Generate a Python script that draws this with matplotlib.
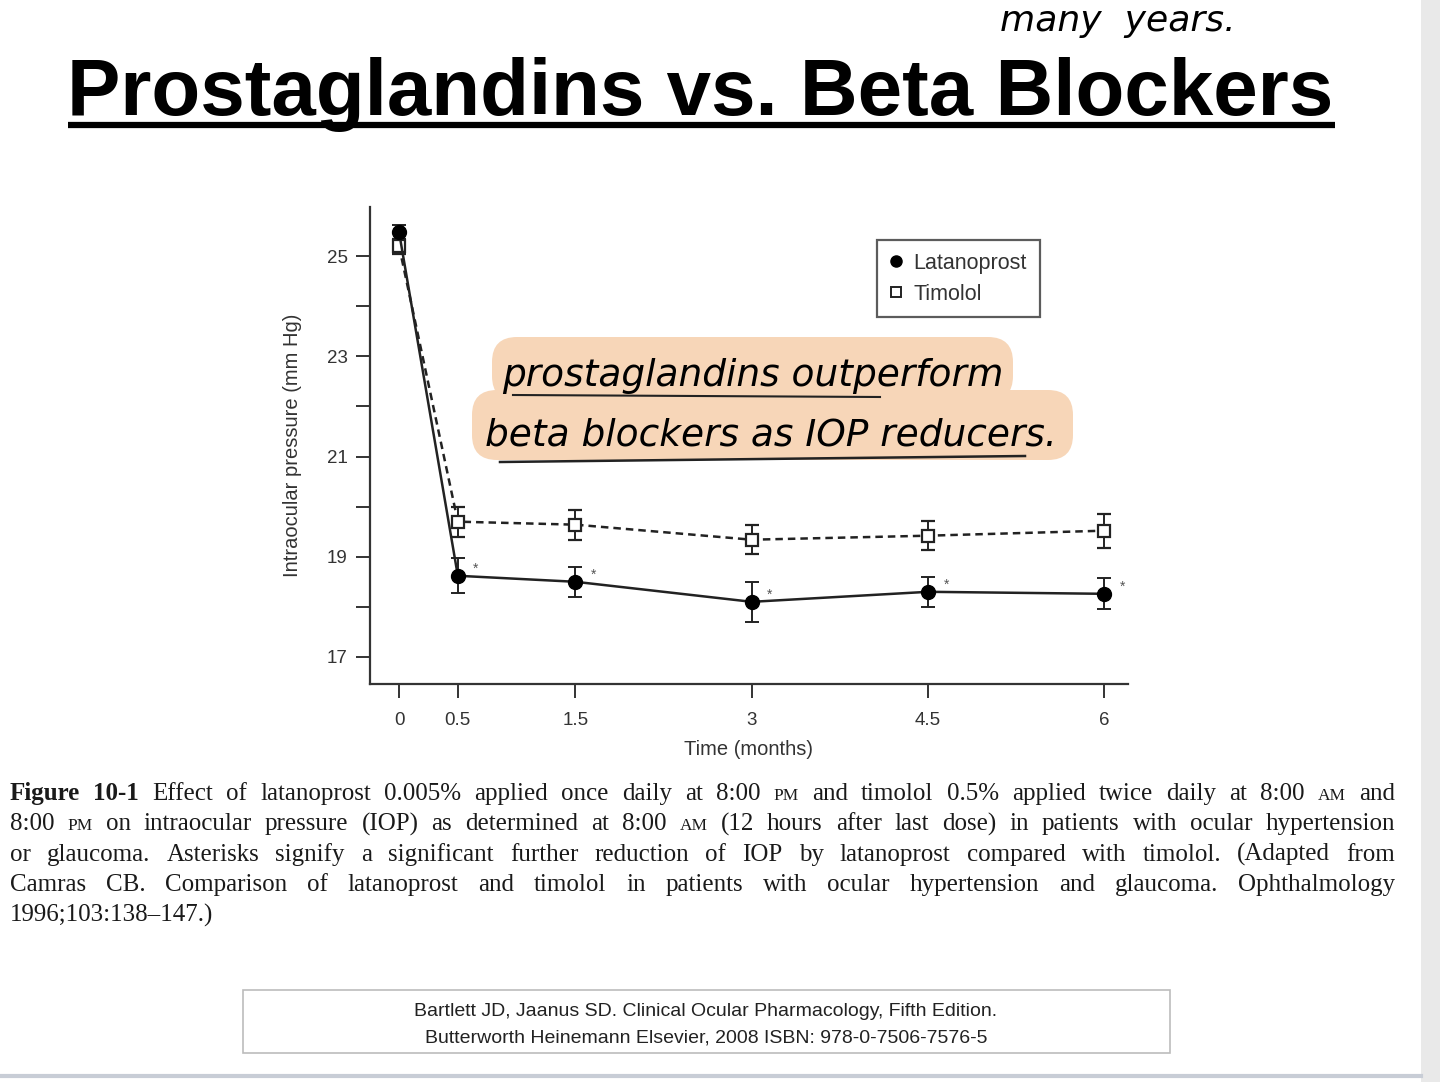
import matplotlib
matplotlib.use("Agg")
import matplotlib.pyplot as plt
from matplotlib.lines import Line2D
from matplotlib.patches import FancyBboxPatch, Rectangle

# IOP readings (mm Hg)
months = [0, 0.5, 1.5, 3, 4.5, 6]
latanoprost = [25.48, 18.62, 18.50, 18.10, 18.30, 18.26]
latanoprost_err = [0.15, 0.35, 0.30, 0.40, 0.30, 0.31]
timolol = [25.20, 19.70, 19.64, 19.34, 19.42, 19.52]
timolol_err = [0.15, 0.30, 0.30, 0.29, 0.29, 0.34]
significant = [False, True, True, True, True, True]

y_ticks = [17, 18, 19, 20, 21, 22, 23, 24, 25]
x_ticks = [0, 0.5, 1.5, 3, 4.5, 6]
x_tick_labels = ["0", "0.5", "1.5", "3", "4.5", "6"]

title = "Prostaglandins vs. Beta Blockers"
note_lines = ["prostaglandins outperform", "beta blockers as IOP reducers."]
caption = [
    "Figure 10-1 Effect of latanoprost 0.005% applied once daily at 8:00 PM and timolol 0.5% applied twice daily at 8:00 AM and",
    "8:00 PM on intraocular pressure (IOP) as determined at 8:00 AM (12 hours after last dose) in patients with ocular hypertension",
    "or glaucoma. Asterisks signify a significant further reduction of IOP by latanoprost compared with timolol. (Adapted from",
    "Camras CB. Comparison of latanoprost and timolol in patients with ocular hypertension and glaucoma. Ophthalmology",
    "1996;103:138\u2013147.)",
]
citation = ["Bartlett JD, Jaanus SD. Clinical Ocular Pharmacology, Fifth Edition.",
            "Butterworth Heinemann Elsevier, 2008 ISBN: 978-0-7506-7576-5"]

W, H = 1440, 1082
fig = plt.figure(figsize=(W / 100, H / 100), dpi=100)
fig.patch.set_facecolor("white")

# background layer in pixel coordinates (y down)
bg = fig.add_axes([0, 0, 1, 1], zorder=0)
bg.set_xlim(0, W)
bg.set_ylim(H, 0)
bg.axis("off")

# page edges
bg.add_patch(Rectangle((1421, 0), 19, H, color="#e9e9e9", lw=0))
bg.plot([0, 1421], [1076, 1076], color="#c8cdd6", lw=3)

# title + underline
bg.text(700, 115, title, ha="center", va="baseline", fontsize=57.5,
        fontweight="bold", family="Liberation Sans", color="black")
bg.plot([68, 1335], [125, 125], color="black", lw=4.5, solid_capstyle="butt")

# handwritten bits
bg.text(1000, 31, "many  years.", ha="left", va="baseline", fontsize=26,
        family="DejaVu Sans", fontstyle="italic", color="black")
bg.add_patch(FancyBboxPatch((500, 345), 505, 48, boxstyle="round,pad=8,rounding_size=25",
                            fc="#f7d6b8", ec="none"))
bg.add_patch(FancyBboxPatch((480, 398), 585, 54, boxstyle="round,pad=8,rounding_size=25",
                            fc="#f7d6b8", ec="none"))
bg.text(502, 386, note_lines[0], ha="left", va="baseline", fontsize=27,
        family="DejaVu Sans", fontstyle="italic", color="black")
bg.text(485, 446, note_lines[1], ha="left", va="baseline", fontsize=27,
        family="DejaVu Sans", fontstyle="italic", color="black")
bg.plot([513, 880], [395, 397], color="#222", lw=1.5)
bg.plot([500, 1025], [462, 456], color="#222", lw=1.8)

# caption, justified line by line
r = fig.canvas.get_renderer()
x_left, x_right = 10, 1395
for i, line in enumerate(caption):
    y = 800 + i * 30.3
    toks = line.split(" ")
    objs = []
    for j, t in enumerate(toks):
        bold = i == 0 and j < 2
        small = t in ("PM", "AM")
        objs.append(bg.text(0, y, t, va="baseline", ha="left",
                            fontsize=12.5 if small else 18,
                            fontweight="bold" if bold else "normal",
                            family="Liberation Serif", color="#1a1a1a"))
    widths = [o.get_window_extent(r).width for o in objs]
    if i < len(caption) - 1:
        gap = (x_right - x_left - sum(widths)) / (len(toks) - 1)
    else:
        gap = 5
    x = x_left
    for o, w in zip(objs, widths):
        o.set_x(x)
        x += w + gap

# citation box
bg.add_patch(Rectangle((243, 990), 927, 63, fill=False, ec="#bcbcbc", lw=1.2))
bg.text(706, 1011, citation[0], ha="center", va="center", fontsize=14,
        family="Liberation Sans", color="#222")
bg.text(706, 1038, citation[1], ha="center", va="center", fontsize=14,
        family="Liberation Sans", color="#222")

# chart
ax = fig.add_axes([370 / W, 1 - 684 / H, (1128 - 370) / W, (684 - 207) / H], zorder=1)
ax.patch.set_alpha(0)
ax.errorbar(months, timolol, yerr=timolol_err, color="#222", lw=1.8, ls=(0, (3, 2)),
            marker="s", ms=9, mfc="white", mec="#222", mew=1.6,
            ecolor="#222", elinewidth=1.4, capsize=5, capthick=1.4, zorder=3)
ax.errorbar(months, latanoprost, yerr=latanoprost_err, color="#222", lw=1.8,
            marker="o", ms=10, mfc="black", mec="black",
            ecolor="#222", elinewidth=1.4, capsize=5, capthick=1.4, zorder=4)
for m, v, s in zip(months, latanoprost, significant):
    if s:
        ax.annotate("*", (m, v), xytext=(11, 2), textcoords="offset points",
                    fontsize=10, color="#555", family="Liberation Sans")

ax.set_xlim(-0.247, 6.2)
ax.set_ylim(16.46, 25.98)
ax.set_xticks(x_ticks)
ax.set_xticklabels(x_tick_labels)
ax.set_yticks(y_ticks)
ax.set_yticklabels([str(v) if v % 2 else "" for v in y_ticks])
for s in ("top", "right"):
    ax.spines[s].set_visible(False)
for s in ("left", "bottom"):
    ax.spines[s].set_color("#333")
    ax.spines[s].set_linewidth(1.6)
ax.tick_params(axis="both", colors="#333", width=1.4, length=10, labelsize=13.5,
               labelcolor="#333")
ax.tick_params(axis="x", pad=10)
ax.tick_params(axis="y", pad=6)
for lab in ax.get_xticklabels() + ax.get_yticklabels():
    lab.set_family("Liberation Sans")
ax.set_xlabel("Time (months)", fontsize=14.5, color="#333", family="Liberation Sans", labelpad=8)
ax.set_ylabel("Intraocular pressure (mm Hg)", fontsize=14.5, color="#333",
              family="Liberation Sans", labelpad=18)

handles = [Line2D([], [], ls="none", marker="o", ms=8, mfc="black", mec="black"),
           Line2D([], [], ls="none", marker="s", ms=7, mfc="white", mec="#222", mew=1.4)]
leg = ax.legend(handles, ["Latanoprost", "Timolol"], loc="upper left",
                bbox_to_anchor=(0.669, 0.931), borderaxespad=0, fancybox=False,
                edgecolor="#333", handlelength=0.6, handletextpad=0.5,
                borderpad=0.6, labelspacing=0.45, prop={"family": "Liberation Sans", "size": 15.5})
leg.get_frame().set_linewidth(1.6)
for t in leg.get_texts():
    t.set_color("#333")

fig.savefig("out.png", dpi=100, facecolor="white")
